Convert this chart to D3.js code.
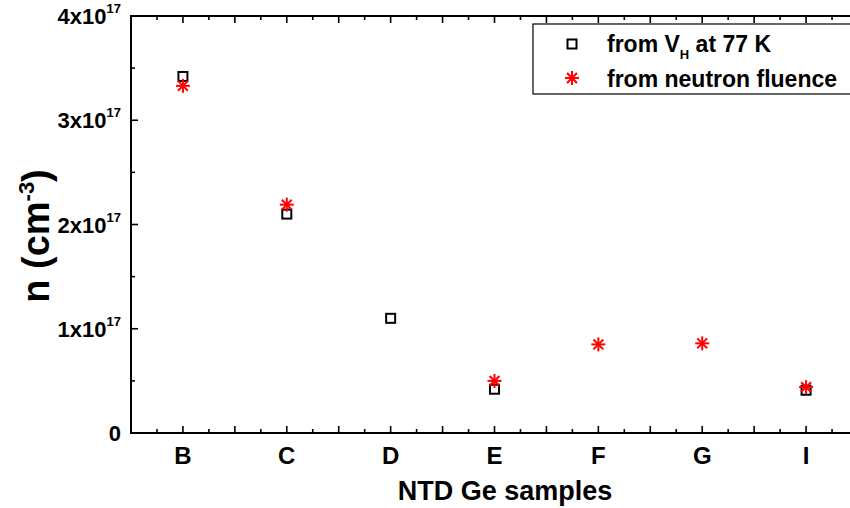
<!DOCTYPE html>
<html>
<head>
<meta charset="utf-8">
<script src="https://cdn.jsdelivr.net/npm/d3@7"></script>
<style>
  html, body { margin: 0; padding: 0; background: #fff; }
  svg { display: block; font-family: "Liberation Sans", Arial, sans-serif; font-weight: bold; }
</style>
</head>
<body>
<svg id="chart" width="850" height="508"></svg>
<script>
// Sample labels and their positions on the x axis
const samples = ["B", "C", "D", "E", "F", "G", "I"];
const samplePos = [1, 2, 3, 4, 5, 6, 7];

// Carrier concentration from Hall voltage at 77 K (units of 1e17 cm^-3); null = not measured
const hallValues = [3.42, 2.10, 1.10, 0.42, null, null, 0.41];
// Carrier concentration expected from neutron fluence (units of 1e17 cm^-3)
const fluenceValues = [3.33, 2.19, null, 0.50, 0.85, 0.86, 0.44];

// Y tick values (units of 1e17) and their exponent labels
const yMajorTicks = [0, 1, 2, 3, 4];
const yExponent = "17";

const legendLabels = ["from V", "from neutron fluence"];

const svg = d3.select("#chart");
const pLeft = 131, pRight = 858, pTop = 16, pBottom = 433;

const x = d3.scaleLinear().domain([0.5, 7.5]).range([pLeft, pRight]);
const y = d3.scaleLinear().domain([0, 4]).range([pBottom, pTop]);

// Frame
svg.append("rect")
  .attr("x", pLeft).attr("y", pTop)
  .attr("width", pRight - pLeft).attr("height", pBottom - pTop)
  .attr("fill", "none").attr("stroke", "#000").attr("stroke-width", 2);

// X ticks: major every half category, minor every quarter
const xMajor = d3.range(0.5, 7.51, 0.5);
const xMinor = d3.range(0.75, 7.5, 0.5);
const tickG = svg.append("g").attr("stroke", "#000").attr("stroke-width", 1.6);
xMajor.forEach(v => {
  tickG.append("line").attr("x1", x(v)).attr("x2", x(v)).attr("y1", pBottom).attr("y2", pBottom - 7);
  tickG.append("line").attr("x1", x(v)).attr("x2", x(v)).attr("y1", pTop).attr("y2", pTop + 7);
});
xMinor.forEach(v => {
  tickG.append("line").attr("x1", x(v)).attr("x2", x(v)).attr("y1", pBottom).attr("y2", pBottom - 4);
  tickG.append("line").attr("x1", x(v)).attr("x2", x(v)).attr("y1", pTop).attr("y2", pTop + 4);
});
// Y ticks: major at each 1e17, minor at the halves
yMajorTicks.forEach(v => {
  tickG.append("line").attr("x1", pLeft).attr("x2", pLeft + 7).attr("y1", y(v)).attr("y2", y(v));
});
d3.range(0.5, 4, 1).forEach(v => {
  tickG.append("line").attr("x1", pLeft).attr("x2", pLeft + 4).attr("y1", y(v)).attr("y2", y(v));
});

// X tick labels
svg.append("g").selectAll("text").data(samples).join("text")
  .attr("x", (d, i) => x(samplePos[i]))
  .attr("y", 464)
  .attr("text-anchor", "middle")
  .attr("font-size", 24)
  .text(d => d);

// Y tick labels
const yl = svg.append("g");
yMajorTicks.forEach(v => {
  if (v === 0) {
    yl.append("text").attr("x", 121).attr("y", y(v) + 8)
      .attr("text-anchor", "end").attr("font-size", 22).text("0");
  } else {
    const t = yl.append("text").attr("x", 121).attr("y", y(v) + 8)
      .attr("text-anchor", "end").attr("font-size", 22);
    t.append("tspan").text(v + "x10");
    t.append("tspan").attr("dy", -11).attr("font-size", 13).text(yExponent);
  }
});

// Axis titles
svg.append("text")
  .attr("x", 505).attr("y", 500)
  .attr("text-anchor", "middle").attr("font-size", 27)
  .text("NTD Ge samples");

const yt = svg.append("text")
  .attr("transform", "translate(49," + 236 + ") rotate(-90)")
  .attr("text-anchor", "middle").attr("font-size", 38);
yt.append("tspan").text("n (cm");
yt.append("tspan").attr("dy", -15).attr("font-size", 22).text("-3");
yt.append("tspan").attr("dy", 15).text(")");

// Marker generators
function drawSquare(g, cx, cy) {
  g.append("rect")
    .attr("x", cx - 4.5).attr("y", cy - 4.5)
    .attr("width", 9).attr("height", 9)
    .attr("fill", "#fff").attr("stroke", "#000").attr("stroke-width", 2);
}
function drawStar(g, cx, cy) {
  const r = 7;
  for (let k = 0; k < 4; k++) {
    const a = k * Math.PI / 4;
    g.append("line")
      .attr("x1", cx - r * Math.cos(a)).attr("y1", cy - r * Math.sin(a))
      .attr("x2", cx + r * Math.cos(a)).attr("y2", cy + r * Math.sin(a))
      .attr("stroke", "#ff0000").attr("stroke-width", 2);
  }
}

// Data points
const squares = svg.append("g");
hallValues.forEach((v, i) => { if (v !== null) drawSquare(squares, x(samplePos[i]), y(v)); });
const stars = svg.append("g");
fluenceValues.forEach((v, i) => { if (v !== null) drawStar(stars, x(samplePos[i]), y(v)); });

// Legend
const lg = svg.append("g");
lg.append("rect")
  .attr("x", 533).attr("y", 24).attr("width", 330).attr("height", 70)
  .attr("fill", "#fff").attr("stroke", "#000").attr("stroke-width", 1.2);
drawSquare(lg, 572, 44);
drawStar(lg, 572, 78);
const l1 = lg.append("text").attr("x", 607).attr("y", 52).attr("font-size", 23);
l1.append("tspan").text(legendLabels[0]);
l1.append("tspan").attr("dy", 7).attr("font-size", 13).text("H");
l1.append("tspan").attr("dy", -7).text(" at 77 K");
lg.append("text").attr("x", 607).attr("y", 87).attr("font-size", 23).text(legendLabels[1]);
</script>
</body>
</html>
